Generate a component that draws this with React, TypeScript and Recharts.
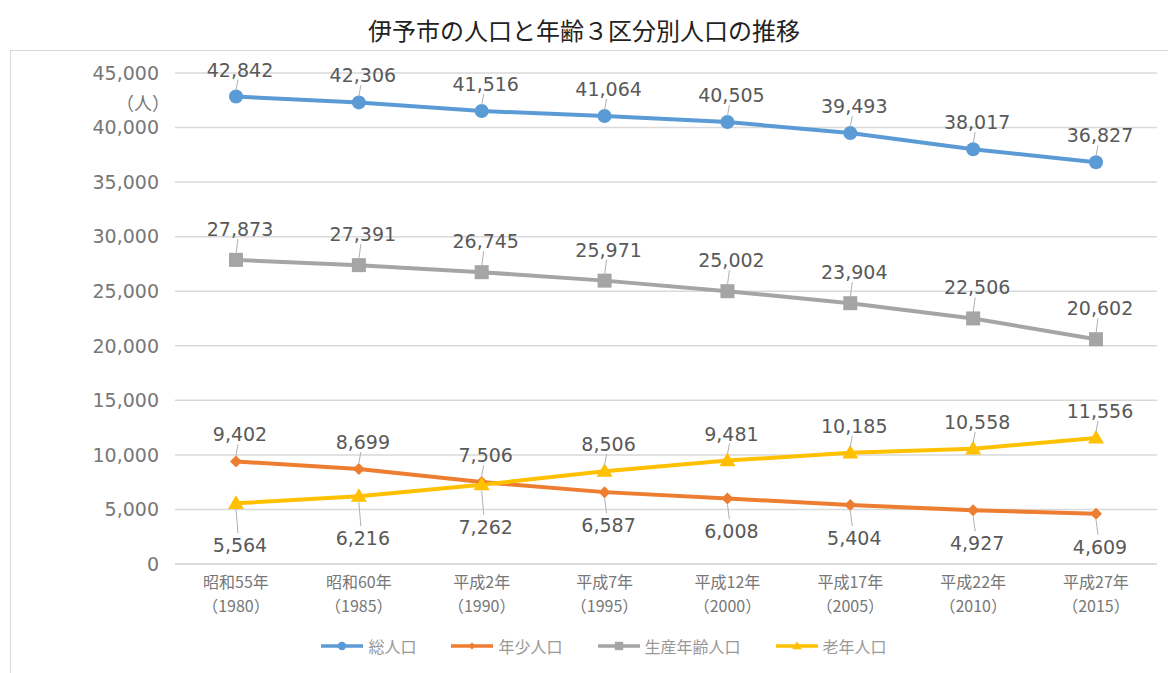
import { LineChart, Line, XAxis, YAxis, CartesianGrid, LabelList, Legend } from 'recharts';

const YEARS = ['昭和55年', '昭和60年', '平成2年', '平成7年', '平成12年', '平成17年', '平成22年', '平成27年'];
const WESTERN = ['1980', '1985', '1990', '1995', '2000', '2005', '2010', '2015'];

const TOTAL = [42842, 42306, 41516, 41064, 40505, 39493, 38017, 36827];
const YOUNG = [9402, 8699, 7506, 6587, 6008, 5404, 4927, 4609];
const WORKING = [27873, 27391, 26745, 25971, 25002, 23904, 22506, 20602];
const ELDERLY = [5564, 6216, 7262, 8506, 9481, 10185, 10558, 11556];

const Y_TICKS = [0, 5000, 10000, 15000, 20000, 25000, 30000, 35000, 40000, 45000];

const SERIES = [
  { key: 'total', name: '総人口', color: '#5b9bd5', shape: 'circle' },
  { key: 'young', name: '年少人口', color: '#ed7d31', shape: 'diamond' },
  { key: 'working', name: '生産年齢人口', color: '#a5a5a5', shape: 'square' },
  { key: 'elderly', name: '老年人口', color: '#ffc000', shape: 'triangle' },
];

const data = YEARS.map((y, i) => ({
  year: y,
  western: WESTERN[i],
  total: TOTAL[i],
  young: YOUNG[i],
  working: WORKING[i],
  elderly: ELDERLY[i],
}));

const FONT = '"Noto Sans CJK JP", "Noto Sans", sans-serif';
const NUM_FONT = '"DejaVu Sans", sans-serif';

function Marker({ shape, color, cx, cy, size = 1 }: any) {
  if (cx == null || cy == null) return null;
  if (shape === 'circle') return <circle cx={cx} cy={cy} r={7 * size} fill={color} />;
  if (shape === 'diamond') {
    const r = 6 * size;
    return <polygon points={`${cx},${cy - r} ${cx + r},${cy} ${cx},${cy + r} ${cx - r},${cy}`} fill={color} />;
  }
  if (shape === 'square') {
    const h = 7 * size;
    return <rect x={cx - h} y={cy - h} width={h * 2} height={h * 2} fill={color} />;
  }
  const r = 8 * size;
  return <polygon points={`${cx},${cy - r} ${cx + r},${cy + r * 0.7} ${cx - r},${cy + r * 0.7}`} fill={color} />;
}

// orange / yellow labels swap sides where the two lines cross
function isAbove(key: string, i: number) {
  if (key === 'young') return YOUNG[i] >= ELDERLY[i];
  if (key === 'elderly') return ELDERLY[i] > YOUNG[i];
  return true;
}

function makeLabel(key: string) {
  return (props: any) => {
    const { x, y, value, index } = props;
    const above = isAbove(key, index);
    const dist = above ? (key === 'working' ? 31 : 27) : key === 'elderly' ? 42 : 33;
    const ty = above ? y - dist : y + dist;
    const l1 = above ? y - 6 : y + 6;
    const l2 = above ? ty + 10 : ty - 12;
    return (
      <g>
        <line x1={x} y1={l1} x2={x + 2} y2={l2} stroke="#b0b0b0" strokeWidth={1} />
        <text x={x + 4} y={ty} textAnchor="middle" dominantBaseline="central" fill="#595959" fontSize={19} fontFamily={NUM_FONT}>
          {value.toLocaleString('en-US')}
        </text>
      </g>
    );
  };
}

function XTick({ x, y, payload, index }: any) {
  return (
    <g>
      <text x={x} y={y + 16} textAnchor="middle" fill="#777" fontSize={16} fontFamily={FONT}>
        {payload.value}
      </text>
      <text x={x} y={y + 40} textAnchor="middle" fill="#777" fontSize={16} fontFamily={FONT}>
        {`（${WESTERN[index]}）`}
      </text>
    </g>
  );
}

function LegendContent() {
  return (
    <div style={{ display: 'flex', justifyContent: 'center', gap: 34, fontFamily: FONT, fontSize: 16, color: '#999', paddingLeft: 40 }}>
      {SERIES.map((s) => (
        <div key={s.key} style={{ display: 'flex', alignItems: 'center', gap: 4 }}>
          <svg width={44} height={14}>
            <line x1={1} y1={7} x2={43} y2={7} stroke={s.color} strokeWidth={3.5} />
            <Marker shape={s.shape} color={s.color} cx={22} cy={7} size={0.6} />
          </svg>
          <span>{s.name}</span>
        </div>
      ))}
    </div>
  );
}

export default function App() {
  return (
    <div style={{ position: 'absolute', left: 0, top: 0, width: 1168, height: 673, background: '#fff', overflow: 'hidden' }}>
      <div style={{ position: 'absolute', top: 12, left: 0, width: 1168, textAlign: 'center', fontFamily: FONT, fontSize: 24, color: '#222' }}>
        伊予市の人口と年齢３区分別人口の推移
      </div>
      <div style={{ position: 'absolute', left: 10, top: 50, width: 1170, height: 640, border: '1px solid #d9d9d9' }} />
      <div style={{ position: 'absolute', left: 116, top: 89, fontFamily: FONT, fontSize: 18, color: '#777' }}>（人）</div>
      <div style={{ position: 'absolute', left: 0, top: 0 }}>
        <LineChart width={1168} height={673} data={data} margin={{ top: 73, right: 11, bottom: 11, left: 10 }}>
          <CartesianGrid vertical={false} stroke="#d9d9d9" strokeWidth={1.5} />
          <XAxis
            dataKey="year"
            tick={<XTick />}
            tickLine={false}
            axisLine={{ stroke: '#d9d9d9', strokeWidth: 1.5 }}
            height={70}
            interval={0}
            padding={{ left: 61, right: 61 }}
          />
          <YAxis
            width={165}
            domain={[0, 45000]}
            ticks={Y_TICKS}
            tickLine={false}
            axisLine={false}
            tickSize={0}
            tickMargin={16}
            tickFormatter={(v: number) => v.toLocaleString('en-US')}
            tick={{ fill: '#777', fontSize: 19, fontFamily: NUM_FONT }}
          />
          <Legend verticalAlign="bottom" height={28} content={<LegendContent />} />
          {SERIES.map((s) => (
            <Line
              key={s.key}
              dataKey={s.key}
              name={s.name}
              stroke={s.color}
              strokeWidth={4}
              isAnimationActive={false}
              dot={(p: any) => <Marker key={`${s.key}-${p.index}`} shape={s.shape} color={s.color} cx={p.cx} cy={p.cy} />}
              activeDot={false}
            >
              <LabelList dataKey={s.key} content={makeLabel(s.key)} />
            </Line>
          ))}
        </LineChart>
      </div>
    </div>
  );
}
